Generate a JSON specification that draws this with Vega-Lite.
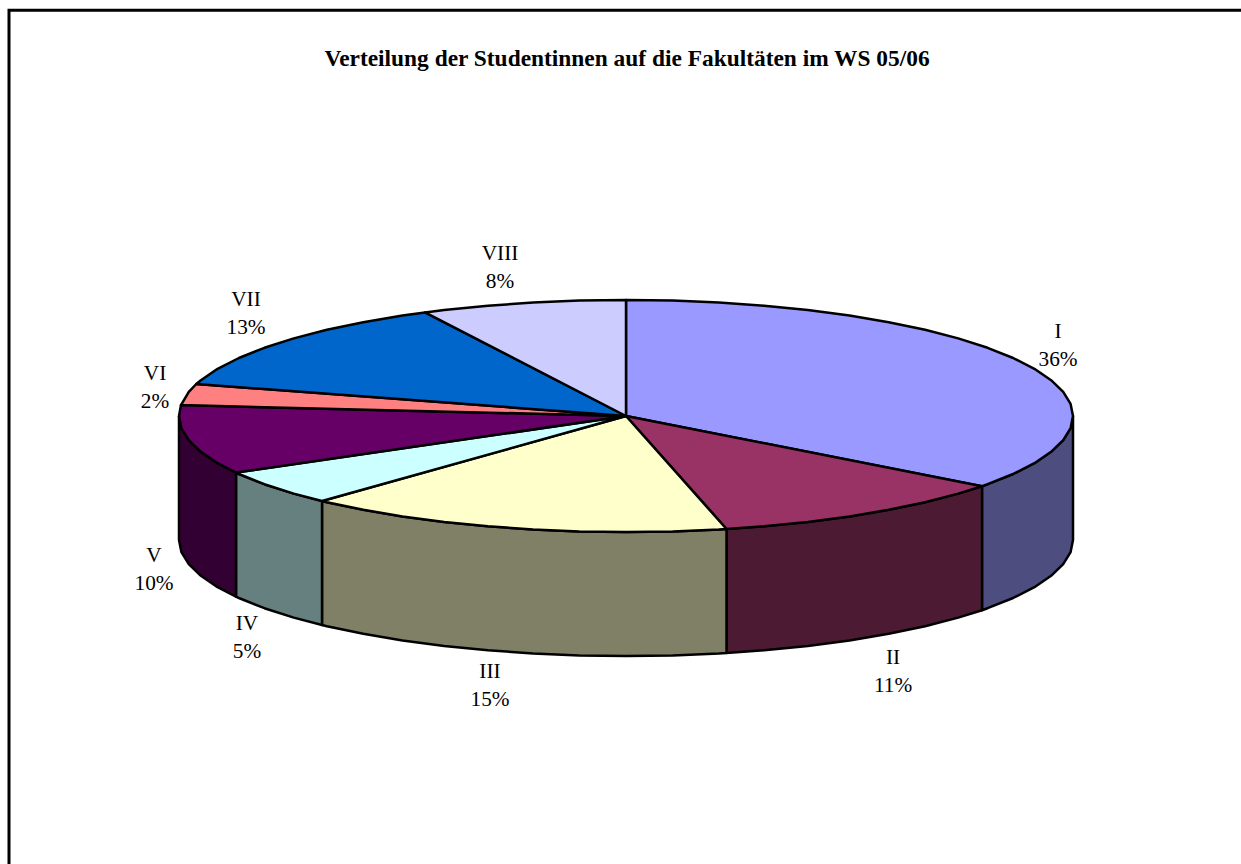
{"$schema":"https://vega.github.io/schema/vega-lite/v6.json","width":1241,"height":864,"autosize":"none","padding":0,"background":"white","view":{"stroke":null},
"title":{"text":"Verteilung der Studentinnen auf die Fakultäten im WS 05/06","font":"Liberation Serif","fontSize":23.4,"fontWeight":"bold","color":"black","anchor":"middle","offset":-71,"dx":6.5},
"config":{"axis":{"disable":true},"legend":{"disable":true}},
"encoding":{},
"datasets":{
"top":[
{"s":"I","n":0,"x":0,"y":0},{"s":"I","n":1,"x":0,"y":116},{"s":"I","n":2,"x":46.7,"y":115.4},{"s":"I","n":3,"x":92.9,"y":113.5},{"s":"I","n":4,"x":138.1,"y":110.3},{"s":"I","n":5,"x":181.8,"y":106},{"s":"I","n":6,"x":223.5,"y":100.5},{"s":"I","n":7,"x":262.7,"y":93.8},{"s":"I","n":8,"x":299.1,"y":86.2},{"s":"I","n":9,"x":332.2,"y":77.6},{"s":"I","n":10,"x":361.6,"y":68.2},{"s":"I","n":11,"x":387.1,"y":58},{"s":"I","n":12,"x":408.4,"y":47.2},{"s":"I","n":13,"x":425.1,"y":35.8},{"s":"I","n":14,"x":437.2,"y":24.1},{"s":"I","n":15,"x":444.6,"y":12.1},{"s":"I","n":16,"x":447,"y":0},{"s":"I","n":17,"x":444.6,"y":-12.1},{"s":"I","n":18,"x":437.2,"y":-24.1},{"s":"I","n":19,"x":425.1,"y":-35.8},{"s":"I","n":20,"x":408.4,"y":-47.2},{"s":"I","n":21,"x":387.1,"y":-58},{"s":"I","n":22,"x":361.6,"y":-68.2},{"s":"I","n":23,"x":356,"y":-70.2},{"s":"I","n":24,"x":0,"y":0},
{"s":"II","n":0,"x":0,"y":0},{"s":"II","n":1,"x":356,"y":-70.2},{"s":"II","n":2,"x":332.2,"y":-77.6},{"s":"II","n":3,"x":299.1,"y":-86.2},{"s":"II","n":4,"x":262.7,"y":-93.8},{"s":"II","n":5,"x":223.5,"y":-100.5},{"s":"II","n":6,"x":181.8,"y":-106},{"s":"II","n":7,"x":138.1,"y":-110.3},{"s":"II","n":8,"x":100.5,"y":-113},{"s":"II","n":9,"x":0,"y":0},
{"s":"III","n":0,"x":0,"y":0},{"s":"III","n":1,"x":100.5,"y":-113},{"s":"III","n":2,"x":92.9,"y":-113.5},{"s":"III","n":3,"x":46.7,"y":-115.4},{"s":"III","n":4,"x":0,"y":-116},{"s":"III","n":5,"x":-46.7,"y":-115.4},{"s":"III","n":6,"x":-92.9,"y":-113.5},{"s":"III","n":7,"x":-138.1,"y":-110.3},{"s":"III","n":8,"x":-181.8,"y":-106},{"s":"III","n":9,"x":-223.5,"y":-100.5},{"s":"III","n":10,"x":-262.7,"y":-93.8},{"s":"III","n":11,"x":-299.1,"y":-86.2},{"s":"III","n":12,"x":-304,"y":-85},{"s":"III","n":13,"x":0,"y":0},
{"s":"IV","n":0,"x":0,"y":0},{"s":"IV","n":1,"x":-304,"y":-85},{"s":"IV","n":2,"x":-332.2,"y":-77.6},{"s":"IV","n":3,"x":-361.6,"y":-68.2},{"s":"IV","n":4,"x":-387.1,"y":-58},{"s":"IV","n":5,"x":-390,"y":-56.6},{"s":"IV","n":6,"x":0,"y":0},
{"s":"V","n":0,"x":0,"y":0},{"s":"V","n":1,"x":-390,"y":-56.6},{"s":"V","n":2,"x":-408.4,"y":-47.2},{"s":"V","n":3,"x":-425.1,"y":-35.8},{"s":"V","n":4,"x":-437.2,"y":-24.1},{"s":"V","n":5,"x":-444.6,"y":-12.1},{"s":"V","n":6,"x":-447,"y":0},{"s":"V","n":7,"x":-445,"y":10.9},{"s":"V","n":8,"x":0,"y":0},
{"s":"VI","n":0,"x":0,"y":0},{"s":"VI","n":1,"x":-445,"y":10.9},{"s":"VI","n":2,"x":-437.2,"y":24.1},{"s":"VI","n":3,"x":-429.7,"y":32},{"s":"VI","n":4,"x":0,"y":0},
{"s":"VII","n":0,"x":0,"y":0},{"s":"VII","n":1,"x":-429.7,"y":32},{"s":"VII","n":2,"x":-425.1,"y":35.8},{"s":"VII","n":3,"x":-408.4,"y":47.2},{"s":"VII","n":4,"x":-387.1,"y":58},{"s":"VII","n":5,"x":-361.6,"y":68.2},{"s":"VII","n":6,"x":-332.2,"y":77.6},{"s":"VII","n":7,"x":-299.1,"y":86.2},{"s":"VII","n":8,"x":-262.7,"y":93.8},{"s":"VII","n":9,"x":-223.5,"y":100.5},{"s":"VII","n":10,"x":-201,"y":103.6},{"s":"VII","n":11,"x":0,"y":0},
{"s":"VIII","n":0,"x":0,"y":0},{"s":"VIII","n":1,"x":-201,"y":103.6},{"s":"VIII","n":2,"x":-181.8,"y":106},{"s":"VIII","n":3,"x":-138.1,"y":110.3},{"s":"VIII","n":4,"x":-92.9,"y":113.5},{"s":"VIII","n":5,"x":-46.7,"y":115.4},{"s":"VIII","n":6,"x":0,"y":116},{"s":"VIII","n":7,"x":0,"y":0}
],
"side":[
{"s":"I side","n":0,"x":356,"y":-70.2},{"s":"I side","n":1,"x":361.6,"y":-68.2},{"s":"I side","n":2,"x":387.1,"y":-58},{"s":"I side","n":3,"x":408.4,"y":-47.2},{"s":"I side","n":4,"x":425.1,"y":-35.8},{"s":"I side","n":5,"x":437.2,"y":-24.1},{"s":"I side","n":6,"x":444.6,"y":-12.1},{"s":"I side","n":7,"x":447,"y":0},{"s":"I side","n":8,"x":447,"y":-124},{"s":"I side","n":9,"x":444.6,"y":-136.1},{"s":"I side","n":10,"x":437.2,"y":-148.1},{"s":"I side","n":11,"x":425.1,"y":-159.8},{"s":"I side","n":12,"x":408.4,"y":-171.2},{"s":"I side","n":13,"x":387.1,"y":-182},{"s":"I side","n":14,"x":361.6,"y":-192.2},{"s":"I side","n":15,"x":356,"y":-194.2},{"s":"I side","n":16,"x":356,"y":-70.2},
{"s":"II side","n":0,"x":100.5,"y":-113},{"s":"II side","n":1,"x":138.1,"y":-110.3},{"s":"II side","n":2,"x":181.8,"y":-106},{"s":"II side","n":3,"x":223.5,"y":-100.5},{"s":"II side","n":4,"x":262.7,"y":-93.8},{"s":"II side","n":5,"x":299.1,"y":-86.2},{"s":"II side","n":6,"x":332.2,"y":-77.6},{"s":"II side","n":7,"x":356,"y":-70.2},{"s":"II side","n":8,"x":356,"y":-194.2},{"s":"II side","n":9,"x":332.2,"y":-201.6},{"s":"II side","n":10,"x":299.1,"y":-210.2},{"s":"II side","n":11,"x":262.7,"y":-217.8},{"s":"II side","n":12,"x":223.5,"y":-224.5},{"s":"II side","n":13,"x":181.8,"y":-230},{"s":"II side","n":14,"x":138.1,"y":-234.3},{"s":"II side","n":15,"x":100.5,"y":-237},{"s":"II side","n":16,"x":100.5,"y":-113},
{"s":"III side","n":0,"x":-304,"y":-85},{"s":"III side","n":1,"x":-299.1,"y":-86.2},{"s":"III side","n":2,"x":-262.7,"y":-93.8},{"s":"III side","n":3,"x":-223.5,"y":-100.5},{"s":"III side","n":4,"x":-181.8,"y":-106},{"s":"III side","n":5,"x":-138.1,"y":-110.3},{"s":"III side","n":6,"x":-92.9,"y":-113.5},{"s":"III side","n":7,"x":-46.7,"y":-115.4},{"s":"III side","n":8,"x":0,"y":-116},{"s":"III side","n":9,"x":46.7,"y":-115.4},{"s":"III side","n":10,"x":92.9,"y":-113.5},{"s":"III side","n":11,"x":100.5,"y":-113},{"s":"III side","n":12,"x":100.5,"y":-237},{"s":"III side","n":13,"x":92.9,"y":-237.5},{"s":"III side","n":14,"x":46.7,"y":-239.4},{"s":"III side","n":15,"x":0,"y":-240},{"s":"III side","n":16,"x":-46.7,"y":-239.4},{"s":"III side","n":17,"x":-92.9,"y":-237.5},{"s":"III side","n":18,"x":-138.1,"y":-234.3},{"s":"III side","n":19,"x":-181.8,"y":-230},{"s":"III side","n":20,"x":-223.5,"y":-224.5},{"s":"III side","n":21,"x":-262.7,"y":-217.8},{"s":"III side","n":22,"x":-299.1,"y":-210.2},{"s":"III side","n":23,"x":-304,"y":-209},{"s":"III side","n":24,"x":-304,"y":-85},
{"s":"IV side","n":0,"x":-390,"y":-56.6},{"s":"IV side","n":1,"x":-387.1,"y":-58},{"s":"IV side","n":2,"x":-361.6,"y":-68.2},{"s":"IV side","n":3,"x":-332.2,"y":-77.6},{"s":"IV side","n":4,"x":-304,"y":-85},{"s":"IV side","n":5,"x":-304,"y":-209},{"s":"IV side","n":6,"x":-332.2,"y":-201.6},{"s":"IV side","n":7,"x":-361.6,"y":-192.2},{"s":"IV side","n":8,"x":-387.1,"y":-182},{"s":"IV side","n":9,"x":-390,"y":-180.6},{"s":"IV side","n":10,"x":-390,"y":-56.6},
{"s":"V side","n":0,"x":-447,"y":0},{"s":"V side","n":1,"x":-444.6,"y":-12.1},{"s":"V side","n":2,"x":-437.2,"y":-24.1},{"s":"V side","n":3,"x":-425.1,"y":-35.8},{"s":"V side","n":4,"x":-408.4,"y":-47.2},{"s":"V side","n":5,"x":-390,"y":-56.6},{"s":"V side","n":6,"x":-390,"y":-180.6},{"s":"V side","n":7,"x":-408.4,"y":-171.2},{"s":"V side","n":8,"x":-425.1,"y":-159.8},{"s":"V side","n":9,"x":-437.2,"y":-148.1},{"s":"V side","n":10,"x":-444.6,"y":-136.1},{"s":"V side","n":11,"x":-447,"y":-124},{"s":"V side","n":12,"x":-447,"y":0}
],
"labels":[
{"fac":"I","pct":36,"x":432,"y":70,"label":"I\n36%"},
{"fac":"II","pct":11,"x":267,"y":-256,"label":"II\n11%"},
{"fac":"III","pct":15,"x":-136,"y":-270,"label":"III\n15%"},
{"fac":"IV","pct":5,"x":-379,"y":-222,"label":"IV\n5%"},
{"fac":"V","pct":10,"x":-472,"y":-154,"label":"V\n10%"},
{"fac":"VI","pct":2,"x":-471,"y":28,"label":"VI\n2%"},
{"fac":"VII","pct":13,"x":-380,"y":102,"label":"VII\n13%"},
{"fac":"VIII","pct":8,"x":-126,"y":148,"label":"VIII\n8%"}
],
"frame":[{"x":-617,"x2":800,"y":405.7,"y2":-600}]
},
"layer":[
{"data":{"name":"frame"},"mark":{"type":"rect","fill":"white","stroke":"black","strokeWidth":3,"clip":true},
"encoding":{"x":{"field":"x","type":"quantitative","scale":{"domain":[-626,615],"nice":false,"zero":false}},"x2":{"field":"x2"},"y":{"field":"y","type":"quantitative","scale":{"domain":[-448,416],"nice":false,"zero":false}},"y2":{"field":"y2"}}},
{"data":{"name":"side"},"mark":{"type":"line","stroke":"black","strokeWidth":2.5,"strokeJoin":"round"},
"encoding":{"x":{"field":"x","type":"quantitative","scale":{"domain":[-626,615],"nice":false,"zero":false}},"y":{"field":"y","type":"quantitative","scale":{"domain":[-448,416],"nice":false,"zero":false}},"order":{"field":"n","type":"ordinal"},"fill":{"field":"s","type":"nominal","legend":null,"scale":{"domain":["I side","II side","III side","IV side","V side"],"range":["#4D4D80","#4D1A33","#808066","#668080","#330033"]}}}},
{"data":{"name":"top"},"mark":{"type":"line","stroke":"black","strokeWidth":2.5,"strokeJoin":"round"},
"encoding":{"x":{"field":"x","type":"quantitative","scale":{"domain":[-626,615],"nice":false,"zero":false}},"y":{"field":"y","type":"quantitative","scale":{"domain":[-448,416],"nice":false,"zero":false}},"order":{"field":"n","type":"ordinal"},"fill":{"field":"s","type":"nominal","legend":null,"scale":{"domain":["I","II","III","IV","V","VI","VII","VIII"],"range":["#9999FF","#993366","#FFFFCC","#CCFFFF","#660066","#FF8080","#0066CC","#CCCCFF"]}}}},
{"data":{"name":"labels"},"mark":{"type":"text","font":"Liberation Serif","fontSize":21.3,"color":"black","align":"center","baseline":"middle","lineBreak":"\n","lineHeight":28,"dy":-14},
"encoding":{"x":{"field":"x","type":"quantitative","scale":{"domain":[-626,615],"nice":false,"zero":false}},"y":{"field":"y","type":"quantitative","scale":{"domain":[-448,416],"nice":false,"zero":false}},"text":{"field":"label","type":"nominal"}}}
],
"resolve":{"scale":{"fill":"independent"}}
}
